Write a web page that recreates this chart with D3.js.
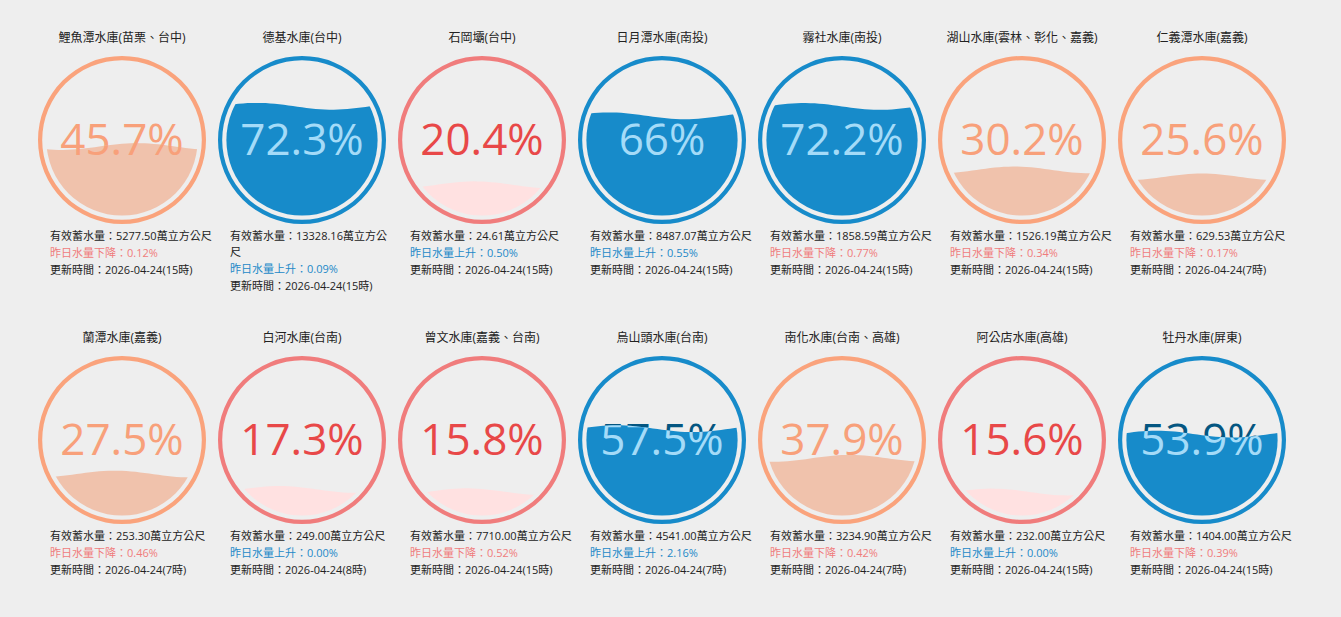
<!DOCTYPE html>
<html><head><meta charset="utf-8">
<script src="https://cdn.jsdelivr.net/npm/d3@7"></script>
<style>
body{margin:0;background:#eeeeee;font-family:"Open Sans","Noto Sans CJK TC",sans-serif;}
</style></head><body>
<svg id="c" width="1341" height="617"></svg>
<script>
const names = ['鯉魚潭水庫(苗栗、台中)','德基水庫(台中)','石岡壩(台中)','日月潭水庫(南投)','霧社水庫(南投)','湖山水庫(雲林、彰化、嘉義)','仁義潭水庫(嘉義)',
  '蘭潭水庫(嘉義)','白河水庫(台南)','曾文水庫(嘉義、台南)','烏山頭水庫(台南)','南化水庫(台南、高雄)','阿公店水庫(高雄)','牡丹水庫(屏東)'];
const percents = [45.7,72.3,20.4,66,72.2,30.2,25.6, 27.5,17.3,15.8,57.5,37.9,15.6,53.9];
const volumes = ['5277.50','13328.16','24.61','8487.07','1858.59','1526.19','629.53','253.30','249.00','7710.00','4541.00','3234.90','232.00','1404.00'];
const changes = [-0.12,0.09,0.50,0.55,-0.77,-0.34,-0.17,-0.46,0.00,-0.52,2.16,-0.42,0.00,-0.39];
const updates = ['2026-04-24(15時)','2026-04-24(15時)','2026-04-24(15時)','2026-04-24(15時)','2026-04-24(15時)','2026-04-24(15時)','2026-04-24(7時)',
  '2026-04-24(7時)','2026-04-24(8時)','2026-04-24(15時)','2026-04-24(7時)','2026-04-24(7時)','2026-04-24(15時)','2026-04-24(15時)'];
const phases = [0.15,0.55,0.3,0.6,0.5,0.3,0.25,0.3,0.4,0.35,0.55,0.2,0.45,0.55];

const svg = d3.select('#c');
const R = 84, thick = 4.2, gap = 4.2, rin = R - thick - gap;
const colX = d3.scaleLinear().domain([0,6]).range([122,1202]);
const rowY = d3.scaleLinear().domain([0,1]).range([140,440]);

function theme(p){
  if (p >= 50) return {ring:'#178BCA', wave:'#178BCA', text:'#045681', wtext:'#A4DBF8'};
  if (p >= 25) return {ring:'#FAA37C', wave:'#F0C2AC', text:'#F8A07A', wtext:'#F8A07A'};
  return {ring:'#F07C7C', wave:'#FFE1E1', text:'#E84848', wtext:'#E84848'};
}

percents.forEach((p,i)=>{
  const cx = colX(i%7), cy = rowY(Math.floor(i/7)), t = theme(p);
  const g = svg.append('g').attr('transform',`translate(${cx},${cy})`);
  g.append('text').attr('y',-98).attr('text-anchor','middle').attr('font-size',12).attr('fill','#222').text(names[i]);
  g.append('path').attr('d', d3.arc()({innerRadius:R-thick, outerRadius:R, startAngle:0, endAngle:2*Math.PI})).attr('fill',t.ring);
  const fs = 44;
  const txt = s => s.attr('text-anchor','middle').attr('y',15).attr('font-size',fs).text(p+'%');
  g.append('text').call(txt).attr('fill',t.text);

  // wave
  const level = rin - (p/100)*2*rin;
  const amp = rin*0.045;
  const xs = d3.range(0,41).map(k => -rin*1.2 + k*(rin*2.4/40));
  const area = d3.area().x(d=>d).y0(rin+2)
    .y1(d=> level + amp*Math.sin(((d+rin)/(2*rin) + phases[i])*2*Math.PI));
  const cid = 'cl'+i;
  const clip = g.append('clipPath').attr('id',cid);
  clip.append('path').attr('d', area(xs));
  const cg = g.append('g').attr('clip-path',`url(#${cid})`);
  cg.append('circle').attr('r',rin).attr('fill',t.wave);
  cg.append('text').call(txt).attr('fill',t.wtext);

  // details
  const lx = -72;
  let y = 100;
  const line1 = g.append('text').attr('x',lx).attr('y',y).attr('font-size',11).attr('fill','#222');
  const full = '有效蓄水量：'+volumes[i]+'萬立方公尺';
  line1.text(full);
  if (line1.node().getComputedTextLength() > 166) {
    let cut = full.length;
    while (cut > 0) { line1.text(full.slice(0,cut)); if (line1.node().getComputedTextLength() <= 166) break; cut--; }
    y += 16;
    g.append('text').attr('x',lx).attr('y',y).attr('font-size',11).attr('fill','#222').text(full.slice(cut));
  }
  y += 17;
  const up = changes[i] >= 0;
  g.append('text').attr('x',lx).attr('y',y).attr('font-size',11)
    .attr('fill', up ? '#2389C8' : '#F07C7C')
    .text((up?'昨日水量上升：':'昨日水量下降：') + Math.abs(changes[i]).toFixed(2)+'%');
  y += 17;
  g.append('text').attr('x',lx).attr('y',y).attr('font-size',11).attr('fill','#222').text('更新時間：'+updates[i]);
});
</script></body></html>
